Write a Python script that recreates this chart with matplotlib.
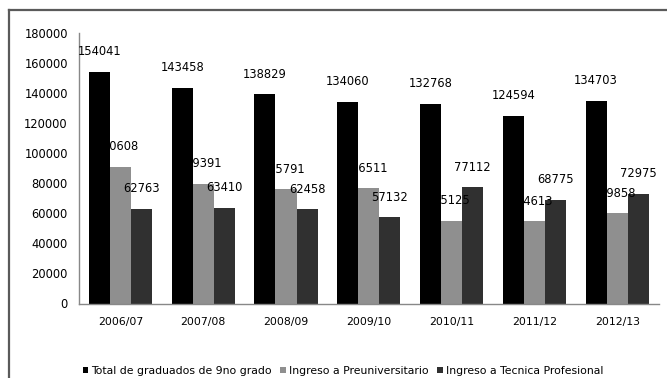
import numpy as np
import matplotlib
matplotlib.use("Agg")
import matplotlib.pyplot as plt
from matplotlib.lines import Line2D

years = ["2006/07", "2007/08", "2008/09", "2009/10", "2010/11", "2011/12", "2012/13"]
graduados = [154041, 143458, 138829, 134060, 132768, 124594, 134703]
preuniversitario = [90608, 79391, 75791, 76511, 55125, 54613, 59858]
tecnica = [62763, 63410, 62458, 57132, 77112, 68775, 72975]

series_names = [
    "Total de graduados de 9no grado",
    "Ingreso a Preuniversitario",
    "Ingreso a Tecnica Profesional",
]
series_colors = ["#000000", "#8f8f8f", "#303030"]
yticks = [0, 20000, 40000, 60000, 80000, 100000, 120000, 140000, 160000, 180000]

W, H = 667, 378
fig = plt.figure(figsize=(W / 100, H / 100), dpi=100)
fig.patch.set_facecolor("white")

ax = fig.add_axes([79 / W, 1 - 303.5 / H, (658.6 - 79) / W, (303.5 - 32.5) / H])

x = np.arange(len(years))
width = 0.254
all_series = [graduados, preuniversitario, tecnica]
for i, (vals, name, col) in enumerate(zip(all_series, series_names, series_colors)):
    pos = x + (i - 1) * width
    ax.bar(pos, vals, width=width, color=col, label=name, zorder=2)
    for px, v in zip(pos, vals):
        ax.annotate(str(v), (px, v), xytext=(0, 14.5), textcoords="offset points",
                    ha="center", va="center", fontsize=8.3, color="black", zorder=5)

ax.set_xlim(-0.5, len(years) - 0.5)
ax.set_ylim(0, 180000)
ax.set_yticks(yticks)
ax.set_yticklabels([str(t) for t in yticks], fontsize=8.3)
ax.set_xticks(x)
ax.set_xticklabels(years, fontsize=7.8)
ax.tick_params(axis="y", length=0, pad=8)
ax.tick_params(axis="x", length=0, pad=10)
for s in ["top", "right"]:
    ax.spines[s].set_visible(False)
for s in ["left", "bottom"]:
    ax.spines[s].set_color("#888888")
    ax.spines[s].set_linewidth(1.0)

handles, labels = ax.get_legend_handles_labels()
fig.legend(handles, labels, loc="center", bbox_to_anchor=(343 / W, 1 - 371 / H),
           ncol=3, frameon=False, fontsize=7.8, handlelength=0.5, handleheight=0.5,
           handletextpad=0.3, columnspacing=0.8, borderpad=0)

# outer frame around the chart area
fig.add_artist(Line2D([9 / W, 1.0], [1 - 10 / H, 1 - 10 / H], transform=fig.transFigure,
                      color="#5a5a5a", lw=1.6))
fig.add_artist(Line2D([9 / W, 9 / W], [0.0, 1 - 10 / H], transform=fig.transFigure,
                      color="#5a5a5a", lw=1.6))

fig.savefig("out.png", dpi=100)
